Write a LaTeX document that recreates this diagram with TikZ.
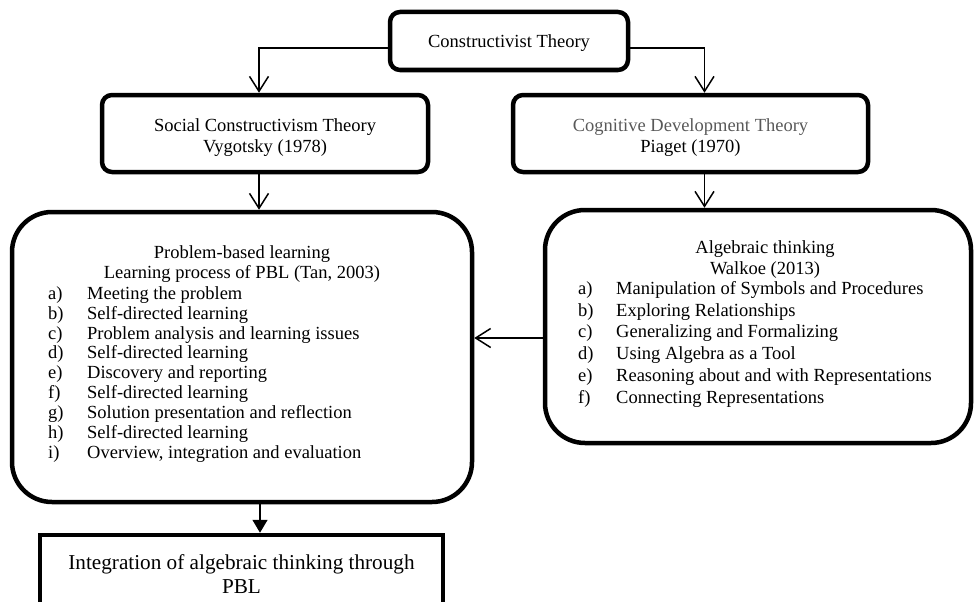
\documentclass[tikz,border=0pt]{standalone}
\usepackage{fontspec}
\setmainfont{Liberation Serif}
\usetikzlibrary{arrows.meta}
\definecolor{cdgray}{RGB}{89,89,89}
\begin{document}
\begin{tikzpicture}[x=1pt,y=-1pt,
  box/.style={draw, line width=4.5pt, rounded corners=10pt, inner sep=0pt, align=center, font=\fontsize{18.5}{21}\selectfont},
  bigbox/.style={draw, line width=4.5pt, rounded corners=40pt, inner sep=0pt},
  txt/.style={inner sep=0pt, text height=13pt, text depth=4.5pt, font=\fontsize{18.5}{21}\selectfont},
  conn/.style={line width=1.5pt, -{Straight Barb[length=15pt,width=19pt]}},
  fconn/.style={line width=1.5pt, -{Triangle[length=13pt,width=15pt]}}
]
\useasboundingbox (0,0) rectangle (974,602);
\clip (0,0) rectangle (974,602);

\node[box, minimum width=238pt, minimum height=58pt] (ct) at (509,41) {\rule{0pt}{16pt}Constructivist Theory};
\node[box, minimum width=326pt, minimum height=77pt] (sc) at (265,133.5) {\rule{0pt}{21pt}Social Constructivism Theory\\Vygotsky (1978)};
\node[box, minimum width=355pt, minimum height=77pt] (cd) at (690.5,133.5) {\rule{0pt}{21pt}\textcolor{cdgray}{Cognitive Development Theory}\\Piaget (1970)};

\node[bigbox, minimum width=460pt, minimum height=290pt] (pbl) at (242,357) {};
\node[txt] (pblt1) at (242,254) {Problem-based learning};
\node[txt] (pblt2) at (242,274) {Learning process of PBL (Tan, 2003)};
\foreach \l/\t [count=\i] in {a/Meeting the problem, b/Self-directed learning, c/Problem analysis and learning issues, d/Self-directed learning, e/Discovery and reporting, f/Self-directed learning, g/Solution presentation and reflection, h/Self-directed learning, i/{Overview, integration and evaluation}}{
  \node[txt, anchor=west] (pbll\i) at (48,{295+(\i-1)*19.9}) {\l)};
  \node[txt, anchor=west] (pbli\i) at (87,{295+(\i-1)*19.9}) {\t};
}

\node[bigbox, minimum width=426pt, minimum height=233pt] (alg) at (758,326.5) {};
\node[txt] (algt1) at (765,249) {Algebraic thinking};
\node[txt] (algt2) at (765,270) {Walkoe (2013)};
\foreach \l/\t [count=\i] in {a/Manipulation of Symbols and Procedures, b/Exploring Relationships, c/Generalizing and Formalizing, d/Using Algebra as a Tool, e/Reasoning about and with Representations, f/Connecting Representations}{
  \node[txt, anchor=west] (algl\i) at (578,{290+(\i-1)*21.8}) {\l)};
  \node[txt, anchor=west] (algi\i) at (616,{290+(\i-1)*21.8}) {\t};
}

\node[draw, line width=4.5pt, minimum width=403pt, minimum height=78pt, align=center, inner sep=0pt, font=\fontsize{21.2}{23.5}\selectfont] (fin) at (241.5,574) {Integration of algebraic thinking through\\PBL};

\draw[conn] ([yshift=-7pt]ct.west) -| ([xshift=-6pt]sc.north);
\draw[conn] ([yshift=-7pt]ct.east) -| ([xshift=14pt]cd.north);
\draw[conn] ([xshift=-6pt]sc.south) -- ([xshift=-6pt]sc.south |- pbl.north);
\draw[conn] ([xshift=14pt]cd.south) -- ([xshift=14pt]cd.south |- alg.north);
\draw[conn] ([yshift=-11.5pt]alg.west) -- ([yshift=-11.5pt]alg.west -| pbl.east);
\draw[fconn] ([xshift=18pt]pbl.south) -- ([xshift=18pt]pbl.south |- fin.north);
\end{tikzpicture}
\end{document}
